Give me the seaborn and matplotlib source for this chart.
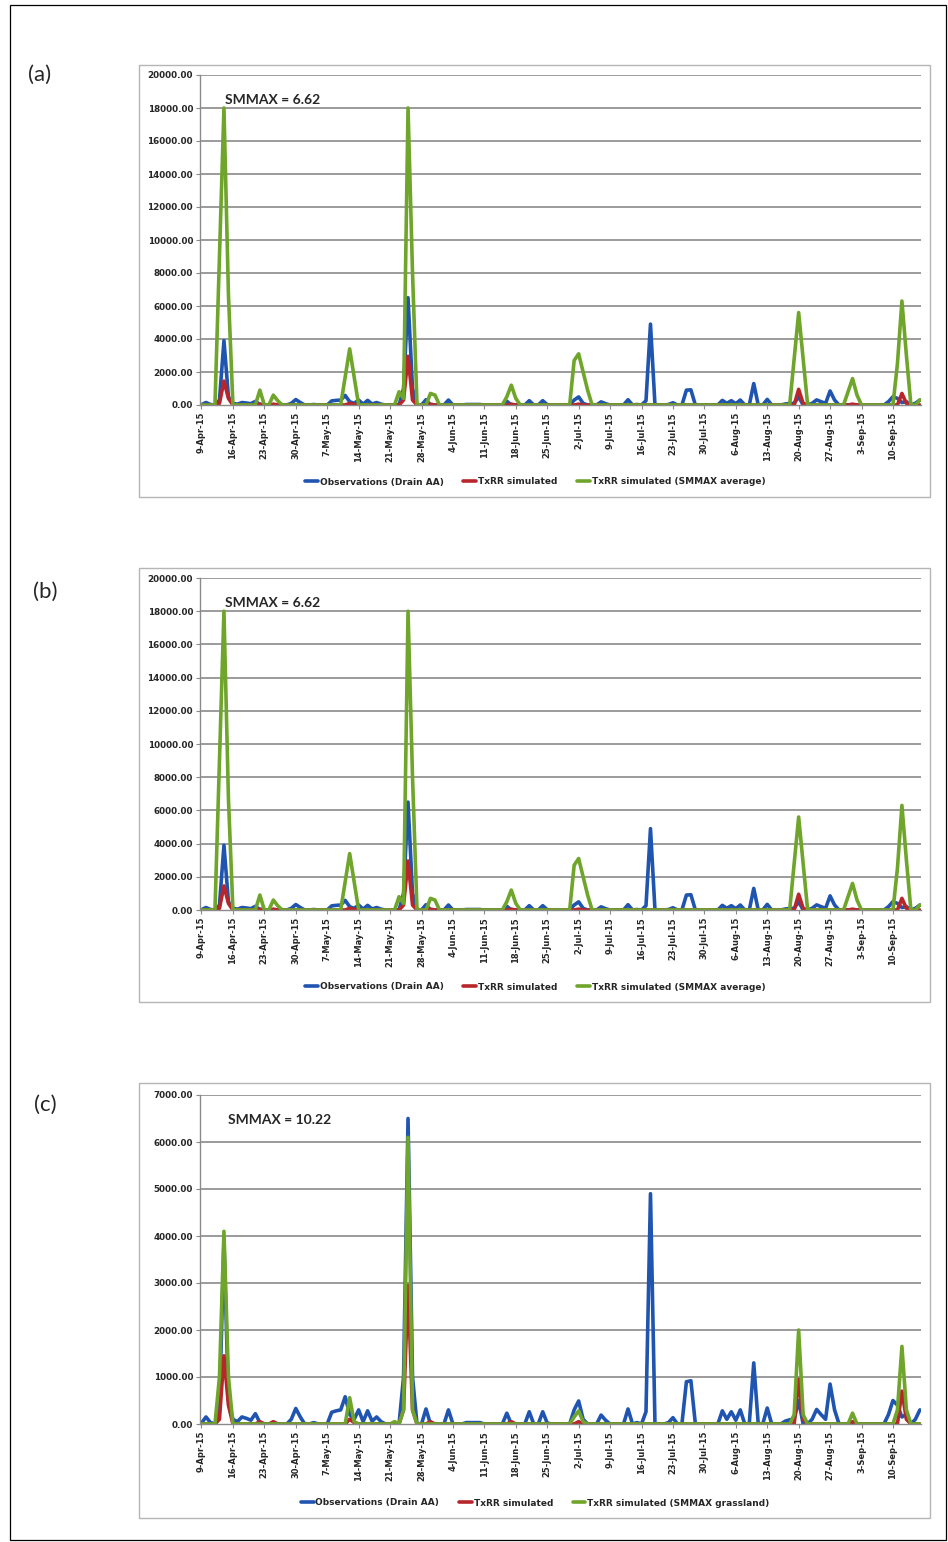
import numpy as np
import pandas as pd
import matplotlib
matplotlib.use("Agg")
import matplotlib.pyplot as plt
import matplotlib.dates as mdates
from matplotlib.lines import Line2D
from matplotlib.patches import Rectangle
import seaborn as sns

# ---------------- data (days after 9-Apr-2015, values) ----------------
start_date = "2015-04-09"
end_date = "2015-09-16"
tick_start = "2015-04-09"
tick_end = "2015-09-10"

obs_days = [0, 1, 2, 4, 5, 6, 7, 8, 9, 10, 11, 12, 13, 20, 21, 22, 25, 29, 30, 31, 32, 33,
            34, 35, 36, 37, 38, 39, 40, 45, 46, 47, 50, 55, 59, 60, 61, 62, 68, 73, 76, 77,
            83, 84, 85, 89, 90, 95, 97, 99, 100, 104, 105, 108, 109, 116, 117, 118, 119, 120,
            123, 126, 130, 131, 132, 133, 136, 137, 138, 139, 140, 141, 153, 154, 155, 156,
            157, 159, 160]
obs_vals = [20, 150, 30, 300, 3900, 500, 100, 50, 150, 120, 80, 220, 30, 100, 330, 150, 30,
            250, 280, 300, 580, 200, 100, 300, 50, 280, 60, 150, 50, 1000, 6500, 1000, 320,
            300, 30, 30, 30, 30, 230, 260, 260, 20, 300, 490, 100, 190, 80, 320, 30, 260,
            4900, 30, 135, 900, 920, 280, 100, 260, 80, 300, 1300, 340, 60, 90, 100, 500,
            100, 310, 200, 100, 850, 300, 200, 500, 400, 150, 200, 100, 300]

txrr_days = [4, 5, 6, 13, 16, 33, 34, 45, 46, 47, 51, 69, 84, 133, 134, 145, 156, 157]
txrr_vals = [100, 1450, 400, 50, 50, 100, 30, 300, 2950, 300, 50, 50, 50, 950, 100, 50, 700, 100]

avg_days = [4, 5, 6, 13, 16, 17, 32, 33, 34, 44, 45, 46, 47, 51, 52, 68, 69, 70, 83, 84, 85,
            86, 132, 133, 134, 144, 145, 146, 155, 156, 157, 160]
avg_vals = [9000, 18000, 6700, 900, 600, 250, 1700, 3400, 1700, 800, 400, 18000, 8000, 700,
            600, 500, 1200, 400, 2700, 3100, 2000, 900, 2800, 5600, 2800, 800, 1600, 600,
            2500, 6300, 3000, 300]

grass_days = [4, 5, 6, 33, 34, 43, 45, 46, 47, 83, 84, 85, 132, 133, 134, 145, 155, 156, 157]
grass_vals = [1000, 4100, 1000, 560, 50, 50, 300, 6100, 300, 150, 280, 50, 200, 2000, 200,
              230, 300, 1650, 300]

obs_label = "Observations (Drain AA)"
txrr_label = "TxRR simulated"
avg_label = "TxRR simulated (SMMAX average)"
grass_label = "TxRR simulated (SMMAX grassland)"
panel_labels = ["(a)", "(b)", "(c)"]
smmax_texts = ["SMMAX = 6.62", "SMMAX = 6.62", "SMMAX = 10.22"]
ymax = [20000, 20000, 7000]
ystep = [2000, 2000, 1000]

# ---------------- helpers ----------------
full_idx = pd.date_range(start_date, end_date, freq="D")


def daily(days, vals):
    idx = pd.to_datetime(start_date) + pd.to_timedelta(days, unit="D")
    return pd.Series(vals, index=idx, dtype=float).reindex(full_idx, fill_value=0.0)


def long_df(green_days, green_vals, green_label):
    frames = []
    for lab, d, v in [(obs_label, obs_days, obs_vals),
                      (txrr_label, txrr_days, txrr_vals),
                      (green_label, green_days, green_vals)]:
        s = daily(d, v)
        frames.append(pd.DataFrame({"date": s.index, "value": s.values, "series": lab}))
    return pd.concat(frames, ignore_index=True)


sns.set_style("white")
plt.rcParams["font.family"] = ["Liberation Sans Narrow", "DejaVu Sans"]

W, H = 948, 1542
fig = plt.figure(figsize=(W / 100, H / 100), dpi=100)

c_blue = "#1f55b0"
c_red = "#b8262b"
c_green = "#6ea52a"
grid_c = "#8a8a8a"

# outer frame
fig.patches.append(Rectangle((10 / W, 1 - 1540 / H), (946 - 10) / W, (1540 - 5) / H,
                             transform=fig.transFigure, fill=False, edgecolor="black",
                             lw=0.9, zorder=0))

# pixel layout of each panel: (chart box top, chart box bottom, plot top, plot bottom)
layout = [(65, 497, 75, 405), (568, 1002, 578, 910), (1083, 1518, 1095, 1424)]
greens = [(avg_days, avg_vals, avg_label), (avg_days, avg_vals, avg_label),
          (grass_days, grass_vals, grass_label)]
label_pos = [(40, 75), (45, 592), (45, 1105)]

ticks = pd.date_range(tick_start, tick_end, freq="7D")

for i in range(3):
    btop, bbot, ptop, pbot = layout[i]
    # chart border
    fig.patches.append(Rectangle((139 / W, 1 - bbot / H), (930 - 139) / W, (bbot - btop) / H,
                                 transform=fig.transFigure, fill=False, edgecolor="#b5b5b5",
                                 lw=1.0, zorder=0))
    ax = fig.add_axes([200 / W, 1 - pbot / H, (921 - 200) / W, (pbot - ptop) / H])
    gd, gv, gl = greens[i]
    df = long_df(gd, gv, gl)
    sns.lineplot(data=df, x="date", y="value", hue="series",
                 hue_order=[obs_label, txrr_label, gl],
                 palette=[c_blue, c_red, c_green], linewidth=2.6, legend=False, ax=ax)

    ax.set_xlim(pd.to_datetime(start_date) - pd.Timedelta(hours=8),
                pd.to_datetime(end_date) + pd.Timedelta(hours=6))
    ax.set_ylim(0, ymax[i])
    yt = np.arange(0, ymax[i] + 1, ystep[i])
    ax.set_yticks(yt)
    ax.set_yticklabels([f"{v:.2f}" for v in yt], fontsize=6.3, fontweight="bold")
    for v in yt[1:]:
        ax.axhline(v, color=grid_c, lw=1.2, zorder=0)
    ax.set_xticks(ticks)
    ax.xaxis.set_major_formatter(mdates.DateFormatter("%-d-%b-%y"))
    for lab in ax.get_xticklabels():
        lab.set_rotation(90)
        lab.set_fontsize(6.0)
        lab.set_fontweight("bold")
    ax.tick_params(axis="both", which="major", length=3, width=0.8, color=grid_c, pad=2,
                   left=True, bottom=True)
    ax.set_xlabel("")
    ax.set_ylabel("")
    for side in ["top", "right"]:
        ax.spines[side].set_visible(False)
    for side in ["left", "bottom"]:
        ax.spines[side].set_color(grid_c)
        ax.spines[side].set_linewidth(1.0)

    ax.text(0.035 if i < 2 else 0.039, 0.924, smmax_texts[i], transform=ax.transAxes,
            ha="left", va="center", fontsize=10, fontweight="bold",
            family=["Lato", "DejaVu Sans"])

    handles = [Line2D([], [], color=c, lw=2.6) for c in (c_blue, c_red, c_green)]
    leg_y = -(bbot - 15 - pbot) / (pbot - ptop)
    ax.legend(handles, [obs_label, txrr_label, gl], loc="center",
              bbox_to_anchor=(0.465, leg_y), ncol=3, frameon=False,
              prop={"size": 6.5, "weight": "bold"}, handlelength=1.4,
              handletextpad=0.2, columnspacing=2.2)

    lx, ly = label_pos[i]
    fig.text(lx / W, 1 - ly / H, panel_labels[i], ha="center", va="center", fontsize=16,
             family=["Lato", "DejaVu Sans"])

fig.savefig("out.png", dpi=100)
